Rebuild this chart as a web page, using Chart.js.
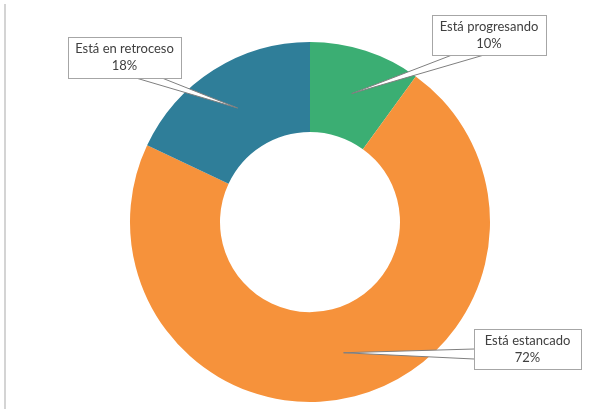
<!DOCTYPE html>
<html>
<head>
<meta charset="utf-8">
<script src="https://cdn.jsdelivr.net/npm/chart.js@4"></script>
<style>
  html, body { margin: 0; padding: 0; background: #fff; }
  #wrap { width: 603px; height: 409px; }
</style>
</head>
<body>
<div id="wrap"><canvas id="grafica" width="603" height="409"></canvas></div>
<script>
const categorias = ['Está progresando', 'Está estancado', 'Está en retroceso'];
const valores = [10, 72, 18];
const colores = ['#3bae73', '#f6923b', '#2f7e99'];

// cajas de las etiquetas y base de la flecha (puntos sobre el borde de la caja)
const cajas = [
  { x: 432, y: 15, w: 114, h: 40, base: [[452, 55], [484, 55]] },
  { x: 474, y: 329, w: 107, h: 40, base: [[474, 349], [474, 359]] },
  { x: 68, y: 37, w: 113, h: 41, base: [[136, 78], [162, 78]] }
];

const etiquetas = {
  id: 'etiquetas',
  beforeDraw(chart) {
    const ctx = chart.ctx;
    ctx.save();
    ctx.strokeStyle = '#d4d4d4';
    ctx.lineWidth = 2;
    ctx.beginPath();
    ctx.moveTo(5, 4);
    ctx.lineTo(5, 409);
    ctx.stroke();
    ctx.restore();
  },
  afterDatasetsDraw(chart) {
    const ctx = chart.ctx;
    const arcos = chart.getDatasetMeta(0).data;
    const total = valores.reduce((a, b) => a + b, 0);
    ctx.save();
    arcos.forEach((arco, i) => {
      const p = arco.tooltipPosition();
      const c = cajas[i];
      // flecha
      ctx.beginPath();
      ctx.moveTo(c.base[0][0], c.base[0][1]);
      ctx.lineTo(p.x, p.y);
      ctx.lineTo(c.base[1][0], c.base[1][1]);
      ctx.closePath();
      ctx.fillStyle = '#ffffff';
      ctx.fill();
      ctx.strokeStyle = '#7f7f7f';
      ctx.lineWidth = 1;
      ctx.beginPath();
      ctx.moveTo(c.base[0][0], c.base[0][1]);
      ctx.lineTo(p.x, p.y);
      ctx.lineTo(c.base[1][0], c.base[1][1]);
      ctx.stroke();
      // caja
      ctx.fillStyle = '#ffffff';
      ctx.fillRect(c.x, c.y, c.w, c.h);
      ctx.strokeStyle = '#a6a6a6';
      ctx.strokeRect(c.x + 0.5, c.y + 0.5, c.w, c.h);
      // texto
      ctx.fillStyle = '#404040';
      ctx.font = '13px Lato';
      ctx.textAlign = 'center';
      ctx.textBaseline = 'middle';
      const cx = c.x + c.w / 2;
      ctx.fillText(categorias[i], cx, c.y + 12);
      ctx.fillText(Math.round(valores[i] / total * 100) + '%', cx, c.y + 29);
    });
    ctx.restore();
  }
};

new Chart(document.getElementById('grafica').getContext('2d'), {
  type: 'doughnut',
  data: {
    labels: categorias,
    datasets: [{
      data: valores,
      backgroundColor: colores,
      borderWidth: 0
    }]
  },
  options: {
    responsive: false,
    animation: false,
    cutout: '50%',
    layout: { padding: { top: 42, bottom: 7, left: 130, right: 113 } },
    plugins: {
      legend: { display: false },
      tooltip: { enabled: false }
    }
  },
  plugins: [etiquetas]
});
</script>
</body>
</html>
